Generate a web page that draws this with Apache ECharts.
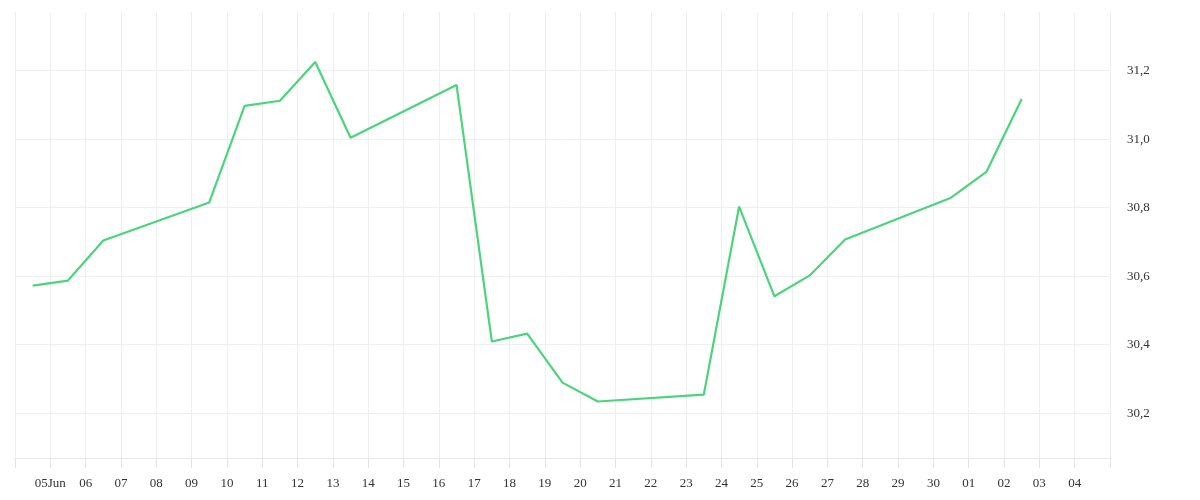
<!DOCTYPE html>
<html>
<head>
<meta charset="utf-8">
<script src="https://cdn.jsdelivr.net/npm/echarts@6/dist/echarts.min.js"></script>
<style>html,body{margin:0;padding:0;background:#fff;}#c{width:1200px;height:500px;}</style>
</head>
<body>
<div id="c"></div>
<script>
// Dates (day of point, 12:00) and values
const dates = ['2019-06-04','2019-06-05','2019-06-06','2019-06-09','2019-06-10','2019-06-11','2019-06-12','2019-06-13','2019-06-16','2019-06-17','2019-06-18','2019-06-19','2019-06-20','2019-06-23','2019-06-24','2019-06-25','2019-06-26','2019-06-27','2019-06-30','2019-07-01','2019-07-02'];
const values = [30.572,30.587,30.704,30.815,31.097,31.112,31.225,31.004,31.158,30.409,30.432,30.289,30.234,30.254,30.803,30.541,30.602,30.707,30.829,30.904,31.117];
const xRange = ['2019-06-04','2019-07-05'];
const yRange = [30.069, 31.371];
const monthNames = ['Jan','Feb','Mar','Apr','May','Jun','Jul','Aug','Sep','Oct','Nov','Dec'];

function toTime(d, h){ const p = d.split('-').map(Number); return new Date(p[0], p[1]-1, p[2], h||0).getTime(); }
const DAY = 86400000;
const xMin = toTime(xRange[0]), xMax = toTime(xRange[1]);
const seriesData = dates.map((d,i)=>[toTime(d,12), values[i]]);

const font = 'Liberation Serif';
const chart = echarts.init(document.getElementById('c'));
chart.setOption({
  animation:false,
  grid:{left:15,right:90,top:12,bottom:42,containLabel:false},
  xAxis:{
    type:'time', min:xMin, max:xMax, minInterval:DAY, maxInterval:DAY,
    axisLine:{show:true,lineStyle:{color:'#e8e8e8',width:1}},
    axisTick:{show:true,length:10,lineStyle:{color:'#e3e3e3'}},
    splitLine:{show:true,lineStyle:{color:'#efefef',width:1}},
    axisLabel:{
      color:'#333', fontFamily:font, fontSize:13, margin:19,
      hideOverlap:false,
      formatter:function(v){
        if (v <= xMin || v >= xMax) return '';
        const d = new Date(v);
        const dd = String(d.getDate()).padStart(2,'0');
        return (v - xMin === DAY) ? dd + monthNames[d.getMonth()] : dd;
      }
    }
  },
  yAxis:{
    type:'value', position:'right', min:yRange[0], max:yRange[1], splitNumber:6, scale:true,
    axisLine:{show:false}, axisTick:{show:false},
    splitLine:{show:true,showMinLine:false,showMaxLine:false,lineStyle:{color:'#efefef',width:1}},
    axisLabel:{
      color:'#333', fontFamily:font, fontSize:13, margin:17,
      showMinLabel:false, showMaxLabel:false,
      formatter:function(v){ return v.toFixed(1).replace('.',','); }
    }
  },
  series:[{
    type:'line', data:seriesData, showSymbol:false, symbol:'none',
    lineStyle:{color:'#4cd47c',width:2.2}
  }]
});
</script>
</body>
</html>
